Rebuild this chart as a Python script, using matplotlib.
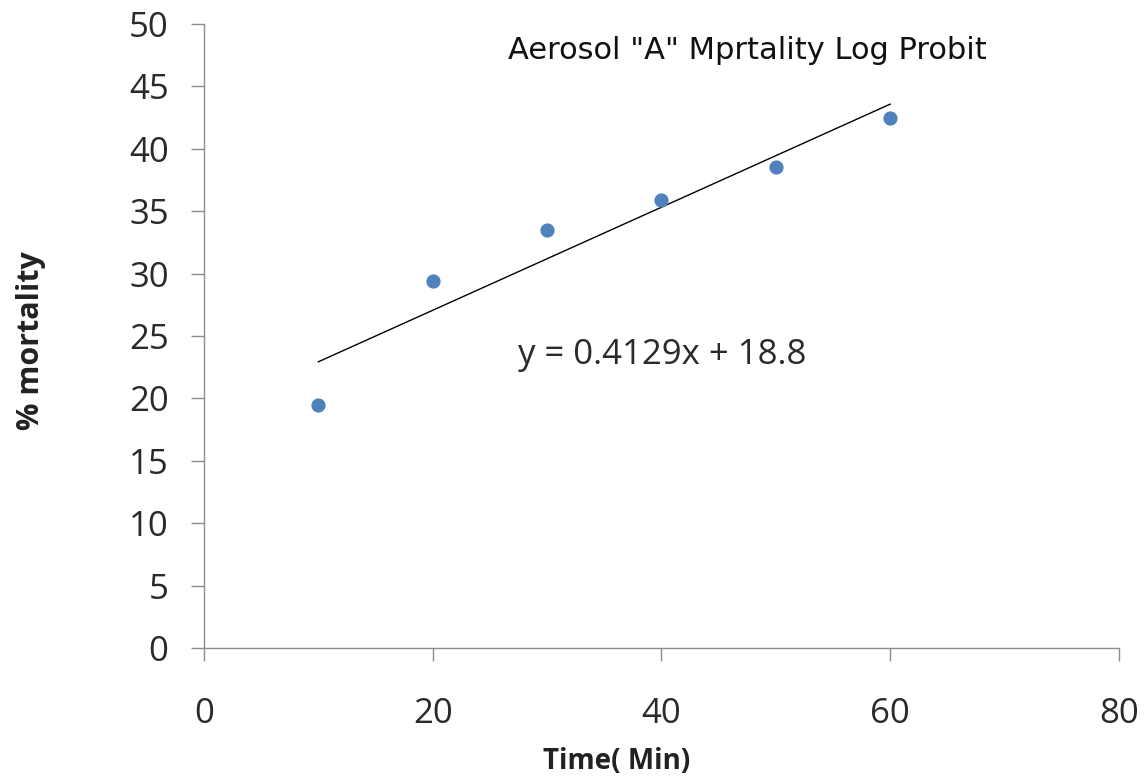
import numpy as np
import matplotlib.pyplot as plt

# data
time_min = [10, 20, 30, 40, 50, 60]
mortality = [19.5, 29.4, 33.5, 35.9, 38.5, 42.5]
slope, intercept = 0.4129, 18.8
x_ticks = [0, 20, 40, 60, 80]
y_ticks = [0, 5, 10, 15, 20, 25, 30, 35, 40, 45, 50]

plt.rcParams['font.family'] = ['Open Sans', 'DejaVu Sans']

fig = plt.figure(figsize=(11.48, 7.82), dpi=100)
ax = fig.add_axes([0.1777, 0.1714, 0.797, 0.798])

# scatter + linear trendline
ax.scatter(time_min, mortality, s=85, color="#4F81BD", zorder=3)
fit_x = np.array([min(time_min), max(time_min)])
ax.plot(fit_x, slope * fit_x + intercept, color="black", lw=1.0)

ax.set_xlim(0, 80)
ax.set_ylim(0, 50)
ax.set_xticks(x_ticks)
ax.set_yticks(y_ticks)

for s in ["top", "right"]:
    ax.spines[s].set_visible(False)
for s in ["left", "bottom"]:
    ax.spines[s].set_color("#8c8c8c")
    ax.spines[s].set_linewidth(1.0)

ax.tick_params(axis="both", colors="#8c8c8c", length=9.5, width=1.0,
               labelsize=25, labelcolor="#2a2a2a")
ax.tick_params(axis="x", pad=26)
ax.tick_params(axis="y", pad=16)

# title, equation, axis labels
ax.text(0.594, 0.958, 'Aerosol "A" Mprtality Log Probit', transform=ax.transAxes,
        ha="center", va="center", fontsize=22, color="#111111",
        family="DejaVu Sans")
ax.text(27.45, 23.5, "y = 0.4129x + 18.8", ha="left", va="center",
        fontsize=25, color="#2a2a2a")

fig.text(0.5375, 0.026, "Time( Min)", ha="center", va="center",
         fontsize=20, fontweight="bold", color="#222222")
fig.text(0.027, 0.565, "% mortality", ha="center", va="center", rotation=90,
         fontsize=22, fontweight="bold", color="#222222")

plt.savefig("out.png", dpi=100)
